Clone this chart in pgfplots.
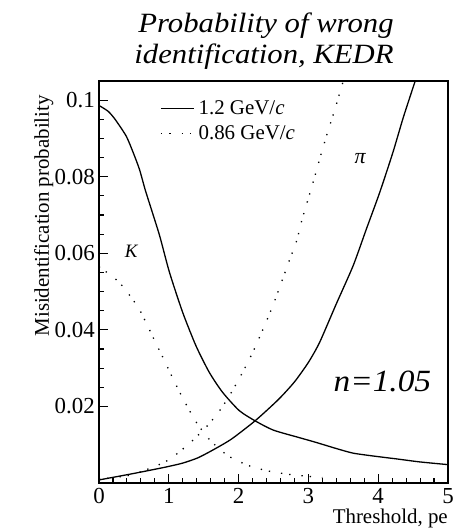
\documentclass[border=0pt]{standalone}
\usepackage{pgfplots}
\pgfplotsset{compat=1.18}
\usepackage{fontspec}
\usepackage{graphicx}
\setmainfont{Liberation Serif}[ItalicFont={Liberation Serif Italic}]

% Misidentification probability vs. threshold (photoelectrons)
% K: kaons misidentified, pi: pions misidentified
\pgfplotstableread{
x      y
0.00   0.0986
0.13   0.0971
0.23   0.0950
0.39   0.0906
0.49   0.0863
0.58   0.0819
0.66   0.0767
0.75   0.0715
0.87   0.0645
1.01   0.0550
1.20   0.0445
1.39   0.0358
1.58   0.0289
1.77   0.0237
2.01   0.0189
2.24   0.0162
2.50   0.0138
2.86   0.0119
3.11   0.0106
3.40   0.0090
3.64   0.0078
3.95   0.0070
4.26   0.0063
4.60   0.0055
5.00   0.0048
}\kaonHigh

\pgfplotstableread{
x      y
0.00   0.0008
0.50   0.0025
0.94   0.0041
1.20   0.0052
1.42   0.0066
1.65   0.0088
1.90   0.0115
2.24   0.0163
2.57   0.0218
2.80   0.0264
3.00   0.0315
3.16   0.0367
3.40   0.0468
3.64   0.0567
3.83   0.0663
4.02   0.0758
4.21   0.0863
4.36   0.0955
4.53   0.1050
}\pionHigh

\pgfplotstableread{
x      y
0.00   0.0565
0.29   0.0524
0.57   0.0456
0.81   0.0367
0.95   0.0315
1.09   0.0261
1.24   0.0208
1.40   0.0157
1.60   0.0110
1.85   0.0071
2.15   0.0045
2.46   0.0030
2.79   0.0021
3.20   0.0014
}\kaonLow

\pgfplotstableread{
x      y
0.00   0.0010
0.46   0.0021
0.90   0.0051
1.08   0.0071
1.33   0.0109
1.56   0.0151
1.76   0.0197
1.93   0.0247
2.08   0.0297
2.23   0.0352
2.40   0.0423
2.49   0.0463
2.61   0.0522
2.72   0.0578
2.83   0.0632
2.91   0.0689
3.01   0.0750
3.10   0.0806
3.18   0.0858
3.28   0.0919
3.38   0.0976
3.47   0.1032
3.50   0.1050
}\pionLow

\begin{document}
\begin{tikzpicture}
\begin{axis}[
  name=ax,
  scale only axis,
  width=349bp, height=402bp,
  xmin=0, xmax=5, ymin=0, ymax=0.105,
  xtick={0,1,2,3,4,5},
  ytick={0.02,0.04,0.06,0.08,0.1},
  yticklabels={0.02,0.04,0.06,0.08,0.1},
  minor x tick num=4,
  minor y tick num=3,
  tick pos=left,
  tick align=inside,
  major tick length=9bp,
  minor tick length=5bp,
  every tick/.style={black, line width=1.1bp},
  axis line style={line width=1.4bp},
  /pgf/number format/assume math mode=true,
  ticklabel style={font=\fontsize{23}{26}\selectfont},
  yticklabel style={inner sep=0pt, xshift=-4bp},
  xticklabel style={inner sep=0pt, yshift=-5bp},
  xlabel={Threshold, pe},
  xlabel style={at={(axis description cs:1,-0.0995)}, anchor=base east,
                inner sep=0pt, font=\fontsize{21}{24}\selectfont},
  ylabel={Misidentification probability},
  ylabel style={at={(axis description cs:-0.158,0.965)}, anchor=east,
                inner sep=0pt, font=\fontsize{21}{24}\selectfont},
  legend style={draw=none, fill=none, at={(axis description cs:0.175,0.957)},
                anchor=north west, font=\fontsize{21}{24}\selectfont,
                row sep=6bp, inner sep=0pt, nodes={inner sep=2bp}},
  legend cell align=left,
  legend image code/.code={\draw[#1] (0bp,0bp) -- (33bp,0bp);},
  solidcurve/.style={black, line width=1.3bp, smooth, tension=0.4},
  dotcurve/.style={black, line width=1.3bp, smooth, tension=0.4,
                   dash pattern=on 1.3bp off 7bp on 1.3bp off 11bp},
]
\addplot[solidcurve] table {\kaonHigh};
\addlegendentry{\hspace{2bp}1.2 GeV/\textit{c}}
\addplot[dotcurve] table {\kaonLow};
\addlegendentry{\hspace{2bp}0.86 GeV/\textit{c}}
\addplot[solidcurve, forget plot] table {\pionHigh};
\addplot[dotcurve, forget plot] table {\pionLow};

\node[font=\fontsize{19}{20}\selectfont\itshape] at (axis cs:0.46,0.0605) {K};
\node[font=\fontsize{22}{24}\selectfont\itshape] at (axis cs:3.74,0.0848) {π};
\node[font=\fontsize{31}{34}\selectfont\itshape, anchor=base, inner sep=0pt]
  at (axis cs:4.06,0.024) {\scalebox{1.08}[1]{n=1.05}};
\end{axis}
% two-line italic title above the frame
\node[font=\fontsize{28}{32}\selectfont\itshape, anchor=base, inner sep=0pt]
  at ([shift={(167bp,48bp)}]ax.north west) {\scalebox{1.1}[1]{Probability of wrong}};
\node[font=\fontsize{28}{32}\selectfont\itshape, anchor=base, inner sep=0pt]
  at ([shift={(165bp,17bp)}]ax.north west) {\scalebox{1.1}[1]{identification, KEDR}};
\pgfresetboundingbox
\path (ax.south west) ++(-99bp,-46bp) rectangle ([shift={(372bp,483bp)}]ax.south west);
\end{tikzpicture}
\end{document}
